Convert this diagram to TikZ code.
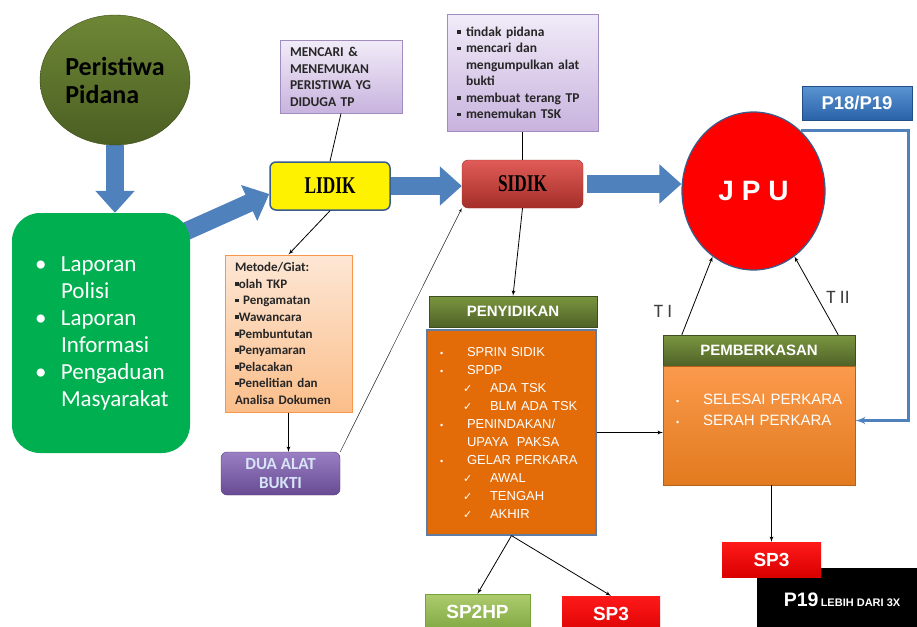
\documentclass[tikz,border=0pt]{standalone}
\usepackage{fontspec}
\setmainfont{Carlito}
\newfontfamily\arialf{Liberation Sans}
\newfontfamily\timesf{Liberation Serif}
\newfontfamily\dejavuf{DejaVu Sans}
\usepackage{graphicx}
\usepackage{xcolor}
\usetikzlibrary{arrows,arrows.meta,positioning,shapes.geometric,backgrounds}

\definecolor{bigblue}{HTML}{4F81BD}
\definecolor{olivetop}{HTML}{6E8736}
\definecolor{olivebot}{HTML}{4B5F22}
\definecolor{lapgreen}{HTML}{00B050}
\definecolor{lavtop}{HTML}{F1EBF8}
\definecolor{lavbot}{HTML}{C8B3DE}
\definecolor{lavline}{HTML}{A08CBF}
\definecolor{peachtop}{HTML}{FDE7D5}
\definecolor{peachbot}{HTML}{FBBE8A}
\definecolor{peachline}{HTML}{F79646}
\definecolor{headtop}{HTML}{7A963F}
\definecolor{headbot}{HTML}{4F6228}
\definecolor{penyorange}{HTML}{E36C09}
\definecolor{pemtop}{HTML}{FA9A4C}
\definecolor{pembot}{HTML}{E27A1E}
\definecolor{duatop}{HTML}{9A7FC4}
\definecolor{duabot}{HTML}{684B93}
\definecolor{duatext}{HTML}{D6E4F5}
\definecolor{sidiktop}{HTML}{E05C58}
\definecolor{sidikbot}{HTML}{A52E28}
\definecolor{p18top}{HTML}{5B95D3}
\definecolor{p18bot}{HTML}{2A62A8}
\definecolor{sp2top}{HTML}{AECC6E}
\definecolor{sp2bot}{HTML}{78A23A}
\definecolor{frameblue}{HTML}{385D8A}

\newcommand{\sqb}{\rule[2.5pt]{3.8pt}{3.8pt}}
\newcommand{\bulg}{\makebox[30pt][l]{\hspace{4pt}\textbullet}}
\newcommand{\bulo}{\makebox[30pt][l]{\hspace{3pt}{\fontsize{9}{9}\selectfont\textbullet}}}
\newcommand{\chk}{\hspace*{26pt}\makebox[27pt][l]{{\dejavuf\fontsize{11}{11}\selectfont ✓}}}

\begin{document}
\begin{tikzpicture}[x=1pt, y=-1pt, auto]
\tikzset{
    procbox/.style={rectangle, inner sep=0pt, align=left},
    lavbox/.style={procbox, top color=lavtop, bottom color=lavbot, draw=lavline, line width=1pt, font=\fontsize{13.5}{16.5}\selectfont\bfseries, text=black!85},
    headbox/.style={procbox, align=center, top color=headtop, bottom color=headbot, draw=headbot!80!black, text=white, font=\arialf\fontsize{15}{15}\selectfont\bfseries},
    redbox/.style={procbox, align=center, top color=red!90, bottom color=red!85!black, text=white, font=\arialf\fontsize{19}{19}\selectfont\bfseries},
    bigarrow/.style={line width=18pt, draw=bigblue, -{Triangle[width=38pt,length=22pt]}},
    myarrow/.style={->, >=latex', thick},
    mylabel/.style={font=\fontsize{19}{19}\selectfont, text=black!75}
}
\useasboundingbox (0,0) rectangle (917,626);
\clip (0,0) rectangle (917,626);

\node[ellipse, minimum width=144pt, minimum height=130pt, top color=olivetop, bottom color=olivebot, draw=olivebot!80!black, align=left, font=\fontsize{26}{28}\selectfont\bfseries] (peristiwa) at (115,80) {Peristiwa\\Pidana};
\node[procbox, rounded corners=28pt, fill=lapgreen, minimum width=178pt, minimum height=240pt, text width=140pt, text=white, font=\fontsize{23}{27}\selectfont] (laporan) at (101,333)
    {\bulg Laporan\\\hspace*{30pt}Polisi\\\bulg Laporan\\\hspace*{30pt}Informasi\\\bulg Pengaduan\\\hspace*{30pt}Masyarakat};

\node[lavbox, minimum width=122pt, minimum height=72pt, text width=102pt] (mencari) at (341,77)
    {MENCARI \&\\MENEMUKAN\\PERISTIWA YG\\DIDUGA TP};
\node[lavbox, minimum width=151pt, minimum height=116pt, text width=131pt] (tindak) at (522.5,73)
    {\makebox[9pt][l]{\sqb}tindak pidana\\\makebox[9pt][l]{\sqb}mencari dan\\\hspace*{9pt}mengumpulkan alat\\\hspace*{9pt}bukti\\\makebox[9pt][l]{\sqb}membuat terang TP\\\makebox[9pt][l]{\sqb}menemukan TSK};

\node[procbox, align=center, rounded corners=6pt, fill=yellow, draw=frameblue, line width=1.5pt, minimum width=120pt, minimum height=48pt] (lidik) at (330,186)
    {\timesf\bfseries\fontsize{24}{24}\selectfont\scalebox{0.72}[1]{LIDIK}};
\node[procbox, align=center, rounded corners=6pt, top color=sidiktop, bottom color=sidikbot, draw=sidikbot, minimum width=121pt, minimum height=48pt] (sidik) at (522.5,184)
    {\timesf\bfseries\fontsize{24}{24}\selectfont\scalebox{0.72}[1]{SIDIK}};
\node[ellipse, fill=red, draw=frameblue, line width=1.2pt, minimum width=143pt, minimum height=158pt, text=white, font=\arialf\fontsize{28}{28}\selectfont\bfseries] (jpu) at (753.5,191) {J P U};
\node[procbox, align=center, top color=p18top, bottom color=p18bot, draw=p18bot!80!black, minimum width=110pt, minimum height=34pt, text=white, font=\arialf\fontsize{18.5}{18.5}\selectfont\bfseries] (p18) at (857,103) {P18/P19};

\node[procbox, top color=peachtop, bottom color=peachbot, draw=peachline, line width=1pt, minimum width=127pt, minimum height=157pt, text width=107pt, font=\fontsize{13}{16.6}\selectfont\bfseries, text=black!85] (metode) at (288.5,333.5)
    {Metode/Giat:\\\sqb olah TKP\\\sqb\ Pengamatan\\\sqb Wawancara\\\sqb Pembuntutan\\\sqb Penyamaran\\\sqb Pelacakan\\\sqb Penelitian dan\\Analisa Dokumen};
\node[procbox, align=center, rounded corners=6pt, top color=duatop, bottom color=duabot, draw=duabot!80!black, minimum width=119pt, minimum height=43pt, text=duatext, font=\fontsize{17}{19}\selectfont\bfseries] (dua) at (280.5,473.5) {DUA ALAT\\BUKTI};

\node[headbox, minimum width=168pt, minimum height=31pt] (penyhead) at (513,311.5) {PENYIDIKAN};
\node[procbox, fill=penyorange, draw=frameblue!80, line width=1.2pt, minimum width=169pt, minimum height=205pt, text width=149pt, text=white, font=\arialf\fontsize{13}{18}\selectfont] (penybody) at (511.5,432.5)
    {\bulo SPRIN SIDIK\\\bulo SPDP\\\chk ADA TSK\\\chk BLM ADA TSK\\\bulo PENINDAKAN/\\\hspace*{30pt}UPAYA\ \ PAKSA\\\bulo GELAR PERKARA\\\chk AWAL\\\chk TENGAH\\\chk AKHIR};

\node[headbox, minimum width=192pt, minimum height=31pt] (pemhead) at (759,350.5) {PEMBERKASAN};
\node[procbox, top color=pemtop, bottom color=pembot, draw=pembot!80!black, minimum width=192pt, minimum height=119pt, text width=172pt, text=white, font=\arialf\fontsize{15}{21}\selectfont] (pembody) at (759,425.5)
    {\bulo SELESAI PERKARA\\\bulo SERAH PERKARA\\[10pt]\mbox{}};

\node[procbox, align=center, top color=sp2top, bottom color=sp2bot, draw=sp2bot, minimum width=105pt, minimum height=42pt, text=white, font=\arialf\fontsize{19}{19}\selectfont\bfseries] (sp2hp) at (477.5,615) {\raisebox{6pt}{SP2HP}};
\node[redbox, minimum width=98pt, minimum height=40pt] (sp3a) at (611,616) {\raisebox{5pt}{SP3}};
\node[procbox, align=center, fill=black, minimum width=170pt, minimum height=64pt, text=white] (lebih) at (842,600)
    {{\arialf\bfseries\fontsize{19.5}{19.5}\selectfont P19} {\arialf\bfseries\fontsize{11}{11}\selectfont LEBIH DARI 3X}};
\node[redbox, minimum width=99pt, minimum height=35pt] (sp3b) at (771.5,559.5) {SP3};

\node[mylabel] (ti) at (663,311) {T I};
\node[mylabel] (tii) at (838,297) {T II};

% blue block arrows behind the boxes
\begin{scope}[on background layer]
\fill[white] (0,0) rectangle (917,626);
\draw[bigarrow] (peristiwa.south) -- (peristiwa.south |- laporan.north);
\draw[bigarrow] ([xshift=-12pt,yshift=-22pt]laporan.north east) -- ([yshift=-8pt]lidik.west);
\draw[bigarrow] (lidik.east) -- (lidik.east -| sidik.west);
\draw[bigarrow] ([xshift=4pt]sidik.east) -- (sidik.east -| jpu.west);
\end{scope}

\draw[thick] (mencari.south) -- (lidik.north);
\draw[thick] (tindak.south) -- (sidik.north);
\draw[myarrow] (lidik.south) -- (metode.north);
\draw[myarrow] (metode.south) -- (metode.south |- dua.north);
\draw[->, >=latex', thin] (dua.north east) -- (sidik.south west);
\draw[myarrow] (sidik.south) -- (penyhead.north);
\draw[myarrow] (penybody.east) -- (penybody.east -| pemhead.west);
\draw[myarrow] (penybody.south) -- (sp2hp.north);
\draw[myarrow] (penybody.south) -- (sp3a.north);
\draw[myarrow] (sp3b.north |- pembody.south) -- (sp3b.north);
\draw[myarrow] ([xshift=19pt]pemhead.north west) -- (jpu.238);
\draw[myarrow] ([xshift=-17pt]pemhead.north east) -- (jpu.302);
% P18/P19 return line
\draw[->, >=latex', draw=bigblue, line width=2.5pt] (jpu.52) -- ++(108,0) |- ([yshift=5pt]pembody.east);

\end{tikzpicture}
\end{document}
